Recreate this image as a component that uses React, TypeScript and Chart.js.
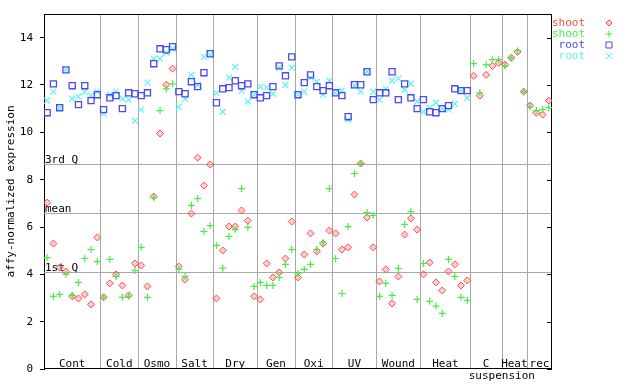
import { useEffect, useRef } from "react";
import { Chart, registerables } from "chart.js";

Chart.register(...registerables);

const groupLabels = ["Cont", "Cold", "Osmo", "Salt", "Dry", "Gen", "Oxi", "UV", "Wound", "Heat", "C", "Heat", "rec"];
const groupStarts = [0, 9, 15, 21, 27, 34, 40, 46, 53, 60, 68, 73, 77];
const sampleCount = 81;
const secondRowLabel = "suspension";
const secondRowAt = 72.5;
const yTicks = [0, 2, 4, 6, 8, 10, 12, 14];
const quartileLabels = ["3rd Q", "mean", "1st Q"];
const quartileValues = [8.68, 6.61, 4.08];
const seriesNames = ["shoot", "shoot", "root", "root"];

const shootA = [
  7.03, 5.3, 4.29, 4.12, 3.07, 2.98, 3.15, 2.73, 5.56,
  3.03, 3.62, 4.0, 3.53, 3.11, 4.46,
  4.37, 3.49, 7.29, 9.95, 12.01, 12.69,
  4.33, 3.78, 6.57, 8.93, 7.75, 8.64,
  2.98, 5.01, 6.02, 6.02, 6.7, 6.27, 3.07,
  2.94, 4.46, 3.87, 4.08, 4.67, 6.23,
  3.87, 4.84, 5.73, 4.97, 5.3, 5.85,
  5.73, 5.05, 5.14, 7.37, 8.68, 6.4, 5.14,
  3.7, 4.21, 2.77, 3.91, 5.68, 6.36, 5.89,
  4.0, 4.5, 3.66, 3.32, 4.12, 4.42, 3.53, 3.74,
  12.39, 11.55, 12.43, 12.81, 12.94,
  12.86, 13.15, 13.4, 11.72,
  11.13, 10.83, 10.75, 11.34,
];

const shootB = [
  4.71, 3.07, 3.15, 4.0, 3.11, 3.66, 4.67, 5.05, 4.54,
  3.03, 4.63, 3.91, 3.03, 3.07, 4.16,
  5.14, 3.03, 7.24, 10.92, 11.84, 12.05,
  4.21, 3.91, 6.91, 7.2, 5.81, 6.06,
  5.22, 4.26, 5.6, 5.89, 7.62, 5.98, 3.49,
  3.66, 3.53, 3.53, 3.87, 4.42, 5.05,
  4.04, 4.21, 4.42, 5.05, 5.35, 7.62,
  4.67, 3.19, 6.02, 8.26, 8.68, 6.61, 6.49,
  3.07, 3.62, 3.11, 4.25, 6.11, 6.65, 2.94,
  4.46, 2.86, 2.66, 2.35, 4.63, 3.91, 3.03, 2.9,
  12.9, 11.67, 12.86, 13.07, 13.07,
  12.81, 13.15, 13.45, 11.72,
  11.08, 10.92, 10.96, 11.04,
];

const rootA = [
  10.83, 12.05, 11.04, 12.64, 11.97, 11.17, 11.97, 11.34, 11.59,
  10.96, 11.46, 11.55, 11.0, 11.67, 11.63,
  11.55, 11.67, 12.9, 13.53, 13.49, 13.62,
  11.72, 11.63, 12.14, 11.93, 12.52, 13.32,
  11.25, 11.84, 11.89, 12.18, 11.97, 12.05, 11.59,
  11.46, 11.55, 11.93, 12.81, 12.39, 13.19,
  11.59, 12.1, 12.43, 11.93, 11.76, 11.97,
  11.67, 11.55, 10.66, 12.01, 12.01, 12.56, 11.38,
  11.67, 11.67, 12.56, 11.38, 12.05, 11.46, 11.0,
  11.38, 10.87, 10.83, 11.0, 11.13, 11.84, 11.76, 11.76,
  null, null, null, null, null,
  null, null, null, null,
  null, null, null, null,
];

const rootB = [
  11.34, 11.72, 11.04, 12.64, 11.42, 11.51, 11.72, 11.55, 11.72,
  10.79, 11.59, 11.72, 11.42, 11.38, 10.49,
  10.96, 12.1, 13.11, 13.11, 13.36, 13.53,
  11.08, 11.42, 12.43, 12.01, 13.19, 13.28,
  11.67, 10.87, 12.31, 12.77, 11.76, 11.3, 11.59,
  11.93, 11.89, 11.63, 12.73, 12.01, 12.73,
  11.59, 11.72, 12.31, 12.14, 11.59, 12.18,
  11.67, 11.76, 10.54, 11.97, 11.72, 12.56, 11.72,
  11.38, 11.84, 12.18, 12.27, 11.8, 12.05, 11.3,
  10.87, 11.04, 11.25, 11.0, 10.96, 11.21, 11.76, 11.46,
  null, null, null, null, null,
  null, null, null, null,
  null, null, null, null,
];

const RED = "#ff4a4a";
const GREEN = "#46ee46";
const BLUE = "#4a4af0";
const CYAN = "#5ef2f2";
const seriesColors = [RED, GREEN, BLUE, CYAN];
const FONT = '11px "DejaVu Sans Mono", monospace';

const toPoints = (arr: (number | null)[]) =>
  arr.map((v, i) => ({ x: i, y: v })).filter((p) => p.y !== null);

function drawMarker(ctx: CanvasRenderingContext2D, kind: number, x: number, y: number) {
  ctx.save();
  ctx.lineWidth = 1;
  ctx.strokeStyle = seriesColors[kind];
  ctx.beginPath();
  if (kind === 0) {
    ctx.fillStyle = "rgba(255,120,120,0.35)";
    ctx.moveTo(x, y - 3);
    ctx.lineTo(x + 3, y);
    ctx.lineTo(x, y + 3);
    ctx.lineTo(x - 3, y);
    ctx.closePath();
    ctx.fill();
  } else if (kind === 1) {
    ctx.moveTo(x - 3.5, y);
    ctx.lineTo(x + 3.5, y);
    ctx.moveTo(x, y - 3.5);
    ctx.lineTo(x, y + 3.5);
  } else if (kind === 2) {
    ctx.rect(x - 3, y - 3, 6, 6);
  } else {
    ctx.moveTo(x - 3, y - 3);
    ctx.lineTo(x + 3, y + 3);
    ctx.moveTo(x + 3, y - 3);
    ctx.lineTo(x - 3, y + 3);
  }
  ctx.stroke();
  ctx.restore();
}

const decorPlugin = {
  id: "decor",
  beforeDatasetsDraw(chart: any) {
    const { ctx, chartArea: a, scales } = chart;
    const x = scales.x;
    const y = scales.y;
    ctx.save();
    ctx.lineWidth = 1;
    ctx.strokeStyle = "#a8a8a8";
    groupStarts.slice(1).forEach((s) => {
      const px = Math.round(x.getPixelForValue(s - 0.5)) + 0.5;
      ctx.beginPath();
      ctx.moveTo(px, a.top);
      ctx.lineTo(px, a.bottom);
      ctx.stroke();
    });
    quartileValues.forEach((v) => {
      const py = Math.round(y.getPixelForValue(v)) + 0.5;
      ctx.beginPath();
      ctx.moveTo(a.left, py);
      ctx.lineTo(a.right, py);
      ctx.stroke();
    });
    ctx.fillStyle = "#000";
    ctx.font = FONT;
    ctx.textAlign = "left";
    ctx.textBaseline = "alphabetic";
    quartileValues.forEach((v, k) => {
      const py = Math.round(y.getPixelForValue(v));
      ctx.fillText(quartileLabels[k], a.left + 1, py - 1);
    });
    ctx.textAlign = "center";
    groupLabels.forEach((lab, k) => {
      const start = groupStarts[k];
      const end = k + 1 < groupStarts.length ? groupStarts[k + 1] : sampleCount;
      const cx = x.getPixelForValue((start + end - 1) / 2);
      ctx.fillText(lab, cx, a.bottom - 2);
    });
    ctx.fillText(secondRowLabel, x.getPixelForValue(secondRowAt), a.bottom + 10);
    // frame
    ctx.strokeStyle = "#000";
    ctx.beginPath();
    ctx.moveTo(a.left, a.top + 0.5);
    ctx.lineTo(a.right, a.top + 0.5);
    ctx.moveTo(a.right - 0.5, a.top);
    ctx.lineTo(a.right - 0.5, a.bottom);
    ctx.moveTo(a.left, a.bottom - 0.5);
    ctx.lineTo(a.right, a.bottom - 0.5);
    yTicks.forEach((v) => {
      const py = Math.round(y.getPixelForValue(v)) + 0.5;
      ctx.moveTo(a.right - 5, py);
      ctx.lineTo(a.right, py);
    });
    ctx.stroke();
    ctx.restore();
  },
  afterDraw(chart: any) {
    const { ctx, chartArea: a } = chart;
    ctx.save();
    ctx.font = FONT;
    ctx.textAlign = "right";
    ctx.textBaseline = "middle";
    seriesNames.forEach((name, k) => {
      const cy = 23 + k * 11;
      ctx.fillStyle = seriesColors[k];
      ctx.fillText(name, a.right + 33, cy);
      drawMarker(ctx, k, a.right + 57, cy);
    });
    ctx.restore();
  },
};

export default function App() {
  const ref = useRef<HTMLCanvasElement | null>(null);
  useEffect(() => {
    if (!ref.current) return;
    const chart = new Chart(ref.current, {
      type: "scatter",
      data: {
        datasets: [
          {
            label: seriesNames[0],
            data: toPoints(shootA),
            pointStyle: "rectRot",
            radius: 3.5,
            borderColor: RED,
            backgroundColor: "rgba(255,120,120,0.35)",
            borderWidth: 1,
            order: 4,
          },
          {
            label: seriesNames[1],
            data: toPoints(shootB),
            pointStyle: "cross",
            radius: 3.5,
            borderColor: GREEN,
            backgroundColor: GREEN,
            borderWidth: 1.2,
            order: 3,
          },
          {
            label: seriesNames[2],
            data: toPoints(rootA),
            pointStyle: "rect",
            radius: 4.3,
            borderColor: BLUE,
            backgroundColor: "rgba(0,0,0,0)",
            borderWidth: 1.3,
            order: 1,
          },
          {
            label: seriesNames[3],
            data: toPoints(rootB),
            pointStyle: "crossRot",
            radius: 4.2,
            borderColor: CYAN,
            backgroundColor: CYAN,
            borderWidth: 1.2,
            order: 2,
          },
        ] as any,
      },
      options: {
        animation: false,
        responsive: true,
        maintainAspectRatio: false,
        layout: { padding: { left: 0, top: 14, right: 88, bottom: 15 } },
        plugins: { legend: { display: false }, tooltip: { enabled: false } },
        scales: {
          x: {
            type: "linear",
            min: -0.5,
            max: sampleCount - 0.5,
            display: false,
          },
          y: {
            type: "linear",
            min: 0,
            max: 15,
            afterFit: (s: any) => {
              s.width = 44;
            },
            afterBuildTicks: (s: any) => {
              s.ticks = yTicks.map((v) => ({ value: v }));
            },
            ticks: {
              color: "#000",
              padding: 7,
              font: { family: '"DejaVu Sans Mono", monospace', size: 11 },
            },
            grid: {
              display: true,
              drawOnChartArea: false,
              drawTicks: true,
              tickLength: 4,
              color: "#000",
            },
            border: { display: true, color: "#000", width: 1 },
            title: {
              display: true,
              text: "affy-normalized expression",
              color: "#000",
              font: { family: '"DejaVu Sans Mono", monospace', size: 11 },
              padding: { top: 5, bottom: 0 },
            },
          },
        },
      } as any,
      plugins: [decorPlugin],
    });
    return () => chart.destroy();
  }, []);
  return (
    <div style={{ position: "fixed", left: 0, top: 0, width: 640, height: 384, background: "#fff" }}>
      <canvas ref={ref} />
    </div>
  );
}
